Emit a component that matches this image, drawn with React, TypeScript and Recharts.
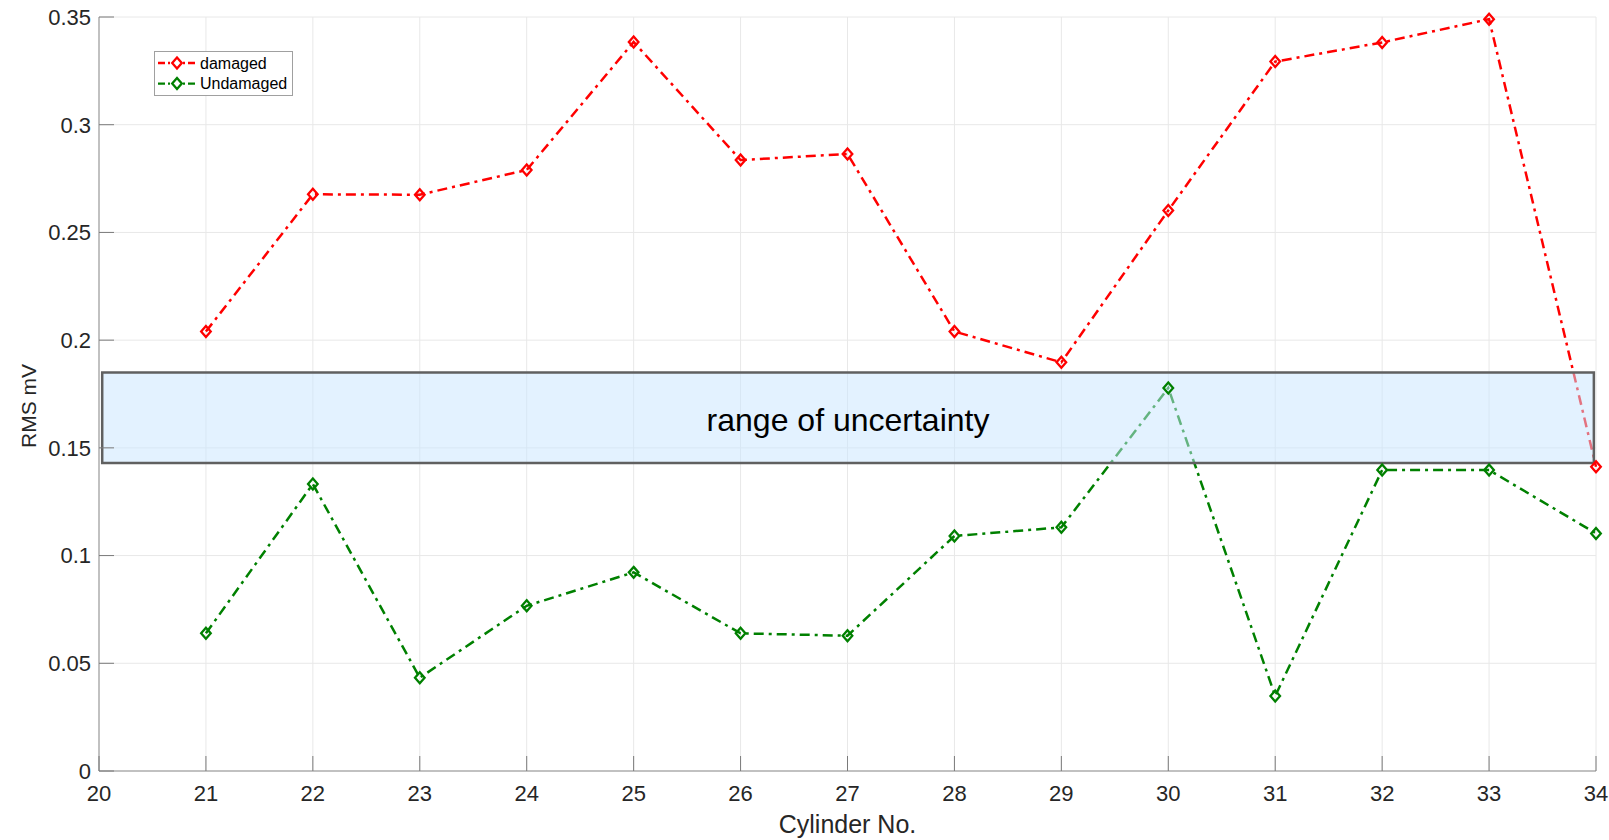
import React from 'react';
import {
  LineChart,
  Line,
  XAxis,
  YAxis,
  CartesianGrid,
  ReferenceArea,
  Legend,
} from 'recharts';

// Cylinder numbers along the x axis
const cylinders = [21, 22, 23, 24, 25, 26, 27, 28, 29, 30, 31, 32, 33, 34];

// RMS values (mV) per cylinder
const damagedRms = [
  0.204, 0.2677, 0.2675, 0.279, 0.3384, 0.2836, 0.2864, 0.204, 0.1897, 0.2602,
  0.3293, 0.3382, 0.349, 0.1412,
];
const undamagedRms = [
  0.0639, 0.1332, 0.0433, 0.0767, 0.0922, 0.0639, 0.0628, 0.1091, 0.1131,
  0.1778, 0.0348, 0.1397, 0.1397, 0.1103,
];

// Axis ticks
const xTicks = [20, 21, 22, 23, 24, 25, 26, 27, 28, 29, 30, 31, 32, 33, 34];
const yTicks = [0, 0.05, 0.1, 0.15, 0.2, 0.25, 0.3, 0.35];
const xDomain: [number, number] = [20, 34];
const yDomain: [number, number] = [0, 0.35];

// Band of uncertain RMS values
const bandX = [20.03, 33.98];
const bandY = [0.143, 0.185];
const bandText = 'range of uncertainty';

const seriesNames = ['damaged', 'Undamaged'];
const seriesColors = ['#ff0000', '#008000'];

const rows = cylinders.map((c, i) => ({
  cyl: c,
  damaged: damagedRms[i],
  Undamaged: undamagedRms[i],
}));

const FONT = '"Liberation Sans", Arial, Helvetica, sans-serif';
const TEXT = '#262626';
const AXIS = '#8f8f8f';
const TICK = '#7a7a7a';
const TICK_LEN = 15;
const DASH = '10 5 3 5';
const LINE_W = 2.5;

const diamondPath = (cx: number, cy: number) =>
  `M${cx},${cy - 5.5} L${cx + 4.8},${cy} L${cx},${cy + 5.5} L${cx - 4.8},${cy} Z`;

const makeDot = (color: string) => (props: any) => {
  const { cx, cy, index } = props;
  if (cx == null || cy == null) return <g key={`d-${index}`} />;
  return (
    <path
      key={`d-${index}`}
      d={diamondPath(cx, cy)}
      fill="none"
      stroke={color}
      strokeWidth={2.3}
    />
  );
};

const BottomTick = (props: any) => {
  const { x, y, payload } = props;
  return (
    <g>
      <line x1={x} y1={y} x2={x} y2={y - TICK_LEN} stroke={TICK} strokeWidth={1} />
      <text
        x={x}
        y={y + 22.5}
        dy="0.355em"
        textAnchor="middle"
        fill={TEXT}
        fontSize={22}
        fontFamily={FONT}
      >
        {String(payload.value)}
      </text>
    </g>
  );
};

const TopTick = (props: any) => {
  const { x, y } = props;
  return <line x1={x} y1={y} x2={x} y2={y + TICK_LEN} stroke={TICK} strokeWidth={1} />;
};

const LeftTick = (props: any) => {
  const { x, y, payload } = props;
  return (
    <g>
      <line x1={x} y1={y} x2={x + TICK_LEN} y2={y} stroke={TICK} strokeWidth={1} />
      <text
        x={x - 8}
        y={y}
        dy="0.355em"
        textAnchor="end"
        fill={TEXT}
        fontSize={22}
        fontFamily={FONT}
      >
        {String(payload.value)}
      </text>
    </g>
  );
};

const RightTick = (props: any) => {
  const { x, y } = props;
  return <line x1={x} y1={y} x2={x - TICK_LEN} y2={y} stroke={TICK} strokeWidth={1} />;
};

const LegendBox = (props: any) => {
  const payload = [...((props.payload || []) as any[])].sort(
    (a, b) => seriesNames.indexOf(a.value) - seriesNames.indexOf(b.value)
  );
  return (
    <svg width={139} height={45} style={{ display: 'block' }}>
      <rect x={0.5} y={0.5} width={138} height={44} fill="#fff" stroke="#a0a0a0" strokeWidth={1} />
      {payload.map((entry, i) => {
        const cy = 12 + i * 20.6;
        const color = entry.color;
        return (
          <g key={entry.value}>
            <line
              x1={4}
              y1={cy}
              x2={41}
              y2={cy}
              stroke={color}
              strokeWidth={2.3}
              strokeDasharray="7 3 2 3"
            />
            <path d={diamondPath(23, cy)} fill="#fff" stroke={color} strokeWidth={2.3} />
            <text
              x={46}
              y={cy}
              dy="0.355em"
              fontSize={16}
              fontFamily={FONT}
              fill="#000"
            >
              {entry.value}
            </text>
          </g>
        );
      })}
    </svg>
  );
};

export default function App() {
  return (
    <div
      style={{
        position: 'absolute',
        left: 0,
        top: 0,
        width: 1609,
        height: 840,
        background: '#fff',
        fontFamily: FONT,
      }}
    >
      <LineChart
        width={1609}
        height={840}
        data={rows}
        margin={{ top: 17, right: 13, bottom: 0, left: 0 }}
      >
        <CartesianGrid stroke="#e8e8e8" strokeWidth={1} />
        <XAxis
          dataKey="cyl"
          type="number"
          domain={xDomain}
          ticks={xTicks}
          interval={0}
          height={69}
          tickSize={0}
          tickMargin={0}
          tickLine={false}
          axisLine={{ stroke: AXIS, strokeWidth: 1 }}
          tick={<BottomTick />}
          label={{
            content: ({ viewBox }: any) => (
              <text
                x={viewBox.x + viewBox.width / 2}
                y={824}
                dy="0.355em"
                textAnchor="middle"
                fill={TEXT}
                fontSize={25}
                fontFamily={FONT}
              >
                Cylinder No.
              </text>
            ),
          }}
        />
        <XAxis
          xAxisId="top"
          orientation="top"
          dataKey="cyl"
          type="number"
          domain={xDomain}
          ticks={xTicks}
          interval={0}
          height={0}
          tickSize={0}
          tickMargin={0}
          tickLine={false}
          axisLine={{ stroke: AXIS, strokeWidth: 1 }}
          tick={<TopTick />}
        />
        <YAxis
          type="number"
          domain={yDomain}
          ticks={yTicks}
          interval={0}
          width={99}
          tickSize={0}
          tickMargin={0}
          tickLine={false}
          axisLine={{ stroke: AXIS, strokeWidth: 1 }}
          tick={<LeftTick />}
          label={{
            content: ({ viewBox }: any) => {
              const cx = 29;
              const cy = viewBox.y + viewBox.height / 2 + 12;
              return (
                <text
                  x={cx}
                  y={cy}
                  dy="0.355em"
                  textAnchor="middle"
                  transform={`rotate(-90, ${cx}, ${cy})`}
                  fill={TEXT}
                  fontSize={21}
                  fontFamily={FONT}
                >
                  RMS mV
                </text>
              );
            },
          }}
        />
        <YAxis
          yAxisId="right"
          orientation="right"
          type="number"
          domain={yDomain}
          ticks={yTicks}
          interval={0}
          width={0}
          tickSize={0}
          tickMargin={0}
          tickLine={false}
          axisLine={{ stroke: AXIS, strokeWidth: 1 }}
          tick={<RightTick />}
        />
        <Line
          type="linear"
          dataKey={seriesNames[0]}
          name={seriesNames[0]}
          stroke={seriesColors[0]}
          strokeWidth={LINE_W}
          strokeDasharray={DASH}
          dot={makeDot(seriesColors[0])}
          activeDot={false}
          isAnimationActive={false}
        />
        <Line
          type="linear"
          dataKey={seriesNames[1]}
          name={seriesNames[1]}
          stroke={seriesColors[1]}
          strokeWidth={LINE_W}
          strokeDasharray={DASH}
          dot={makeDot(seriesColors[1])}
          activeDot={false}
          isAnimationActive={false}
        />
        <ReferenceArea
          x1={bandX[0]}
          x2={bandX[1]}
          y1={bandY[0]}
          y2={bandY[1]}
          fill="rgb(199,229,255)"
          fillOpacity={0.5}
          stroke="#606060"
          strokeWidth={2.5}
          zIndex={450}
          label={{
            value: bandText,
            position: 'center',
            fill: '#000',
            fontSize: 32,
            fontFamily: FONT,
            dy: 2,
          }}
        />
        <Legend
          layout="vertical"
          align="center"
          verticalAlign="middle"
          content={<LegendBox />}
          wrapperStyle={{
            left: 154,
            top: 51,
            right: 'auto',
            bottom: 'auto',
            width: 139,
            height: 45,
          }}
        />
      </LineChart>
    </div>
  );
}
